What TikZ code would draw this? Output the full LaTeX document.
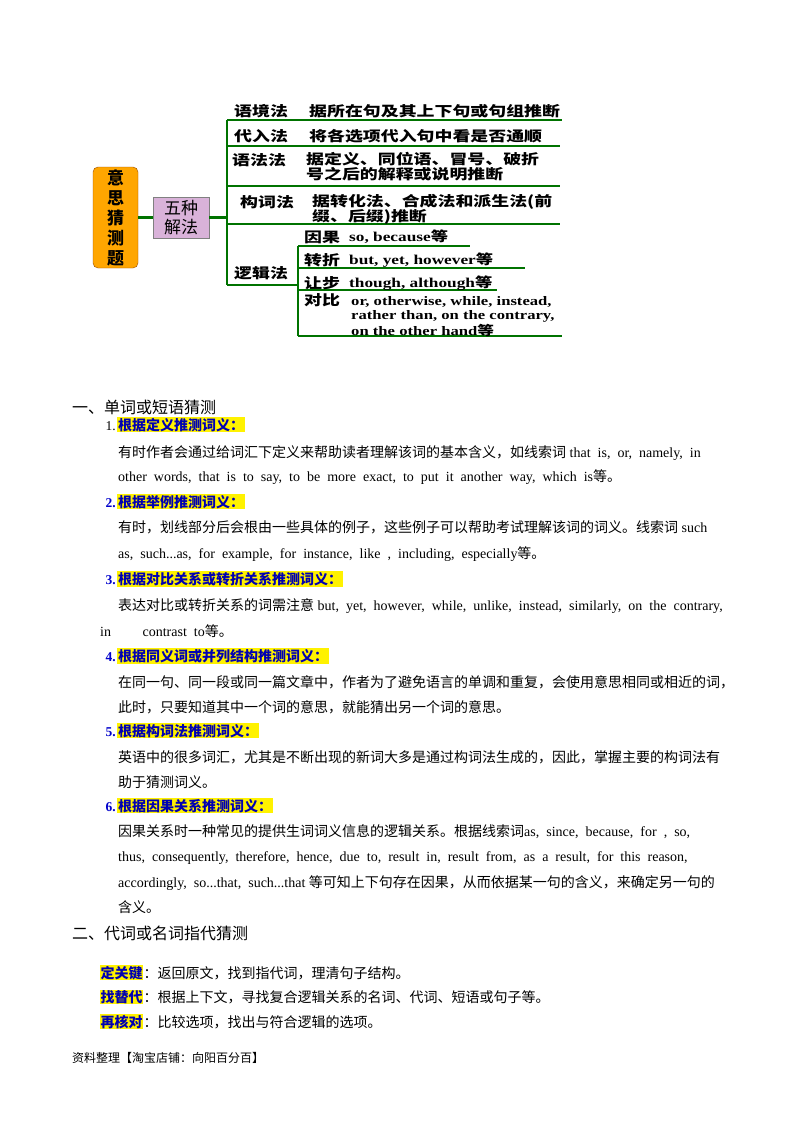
\documentclass[tikz,border=0pt]{standalone}
\usepackage{fontspec}
\setmainfont{Liberation Serif}
\newfontfamily\cj{Noto Sans CJK SC}
\newcommand\sxx[1]{\scalebox{1.28}[1]{#1}}
\newcommand\sxt[1]{\scalebox{1.28}[1]{\begin{tabular}{@{}l@{}}#1\end{tabular}}}
\begin{document}
\begin{tikzpicture}[x=1pt,y=-1pt,
  gl/.style={draw=green!45!black,line width=1.3pt},
  dg/.style={anchor=west,inner sep=0,font=\fontsize{14}{15}\selectfont\bfseries\cj},
  de/.style={anchor=west,inner sep=0,font=\fontsize{13.5}{14}\selectfont\bfseries,align=left},
  body/.style={anchor=base west,inner sep=0,font=\fontsize{14}{15}\selectfont},
  hd/.style={anchor=base west,inner sep=1pt,fill=yellow,text=blue!70!black,font=\fontsize{14}{15}\selectfont\bfseries\cj},
  num/.style={anchor=base east,inner sep=0,text=blue!80!black,font=\fontsize{13.5}{14}\selectfont\bfseries},
  sec/.style={anchor=base west,inner sep=0,font=\fontsize{16}{18}\selectfont\cj}]
\useasboundingbox[fill=white] (0,0) rectangle (800,1132);
% mind map
\node[draw=orange!60!black,fill=orange!70!yellow,rounded corners=5pt,minimum width=45pt,minimum height=101pt,align=center,inner sep=2pt,font=\fontsize{17}{20}\selectfont\bfseries\cj] (root) at (115.5,217.5) {意\\思\\猜\\测\\题};
\node[draw=gray,fill=violet!30,minimum width=56pt,minimum height=41pt,align=center,inner sep=1pt,font=\fontsize{17}{19}\selectfont\cj] (five) at (181,217.5) {五种\\解法};
\coordinate (t1) at (227,120); \coordinate (t2) at (227,285);
\coordinate (tm) at (227,217.5);
\draw[gl,line width=2.5pt] (root.east) -- (five.west);
\draw[gl,line width=2.5pt] (five.east) -- (tm);
\draw[gl] (t1) -- (t2);
\coordinate (e1) at (562,120); \coordinate (e2) at (560,146); \coordinate (e3) at (560,186); \coordinate (e4) at (560,224);
\coordinate (b1) at (227,146); \coordinate (b2) at (227,186); \coordinate (b3) at (227,224);
\draw[gl] (t1) -- (e1); \draw[gl] (b1) -- (e2); \draw[gl] (b2) -- (e3); \draw[gl] (b3) -- (e4);
\coordinate (s0) at (298,285); \draw[gl] (t2) -- (s0);
\coordinate (u1) at (298,246); \coordinate (u2) at (298,268); \coordinate (u3) at (298,290); \coordinate (u4) at (298,336);
\coordinate (v1) at (470,246); \coordinate (v2) at (525,268); \coordinate (v3) at (497,290); \coordinate (v4) at (562,336);
\draw[gl] (u1) -- (u4);
\draw[gl] (u1) -- (v1); \draw[gl] (u2) -- (v2); \draw[gl] (u3) -- (v3); \draw[gl] (u4) -- (v4);
\node[dg] (m1) at (234,111) {\sxx{语境法}};
\node[dg] (d1) at (309,111) {\sxx{据所在句及其上下句或句组推断}};
\node[dg] (m2) at (234,136) {\sxx{代入法}};
\node[dg] (d2) at (309,136) {\sxx{将各选项代入句中看是否通顺}};
\node[dg] (m3) at (232,160) {\sxx{语法法}};
\node[dg] (d3) at (306,168) {\sxt{据定义、同位语、冒号、破折\\[-2pt]号之后的解释或说明推断}};
\node[dg] (m4) at (240,202) {\sxx{构词法}};
\node[dg] (d4) at (312,210) {\sxt{据转化法、合成法和派生法(前\\[-2pt]缀、后缀)推断}};
\node[dg] (m5) at (234,273) {\sxx{逻辑法}};
\node[dg] (l1) at (304,237) {\sxx{因果}};
\node[de] (k1) at (349,237) {\sxx{so, because{\cj 等}}};
\node[dg] (l2) at (304,260) {\sxx{转折}};
\node[de] (k2) at (349,260) {\sxx{but, yet, however{\cj 等}}};
\node[dg] (l3) at (304,283) {\sxx{让步}};
\node[de] (k3) at (349,283) {\sxx{though, although{\cj 等}}};
\node[dg] (l4) at (304,300) {\sxx{对比}};
\node[de,anchor=north west,font=\fontsize{13}{14}\selectfont\bfseries] (k4) at (351,295) {\sxt{or, otherwise, while, instead,\\[0.5pt]rather than, on the contrary,\\[0.5pt]on the other hand{\cj 等}}};
% text
\node[sec] (s1) at (72,413) {一、单词或短语猜测};
\node[anchor=base east,inner sep=0,font=\fontsize{13.5}{14}\selectfont] (n1) at (116,430) {1.};
\node[hd] (h1) at (117,430) {根据定义推测词义：};
\node[body] (p11) at (118,457) {{\cj 有时作者会通过给词汇下定义来帮助读者理解该词的基本含义，如线索词} that \ is, \ or, \ namely, \ in};
\node[body] (p12) at (118,481) {other \ words, \ that \ is \ to \ say, \ to \ be \ more \ exact, \ to \ put \ it \ another \ way, \ which \ is{\cj 等。}};
\node[num] (n2) at (116,507) {2.};
\node[hd] (h2) at (117,507) {根据举例推测词义：};
\node[body] (p21) at (118,532) {{\cj 有时，划线部分后会根由一些具体的例子，这些例子可以帮助考试理解该词的词义。线索词} such};
\node[body] (p22) at (118,558) {as, \ such...as, \ for \ example, \ for \ instance, \ like \ , \ including, \ especially{\cj 等。}};
\node[num] (n3) at (116,584) {3.};
\node[hd] (h3) at (117,584) {根据对比关系或转折关系推测词义：};
\node[body] (p31) at (118,610) {{\cj 表达对比或转折关系的词需注意} but, \ yet, \ however, \ while, \ unlike, \ instead, \ similarly, \ on \ the \ contrary,};
\node[body] (p32) at (100,636) {in \qquad contrast \ to{\cj 等。}};
\node[num] (n4) at (116,661) {4.};
\node[hd] (h4) at (117,661) {根据同义词或并列结构推测词义：};
\node[body] (p41) at (118,687) {\cj 在同一句、同一段或同一篇文章中，作者为了避免语言的单调和重复，会使用意思相同或相近的词，};
\node[body] (p42) at (118,712) {\cj 此时，只要知道其中一个词的意思，就能猜出另一个词的意思。};
\node[num] (n5) at (116,736) {5.};
\node[hd] (h5) at (117,736) {根据构词法推测词义：};
\node[body] (p51) at (118,762) {\cj 英语中的很多词汇，尤其是不断出现的新词大多是通过构词法生成的，因此，掌握主要的构词法有};
\node[body] (p52) at (118,787) {\cj 助于猜测词义。};
\node[num] (n6) at (116,811) {6.};
\node[hd] (h6) at (117,811) {根据因果关系推测词义：};
\node[body] (p61) at (118,836) {{\cj 因果关系时一种常见的提供生词词义信息的逻辑关系。根据线索词}as, \ since, \ because, \ for \ , \ so,};
\node[body] (p62) at (118,861) {thus, \ consequently, \ therefore, \ hence, \ due \ to, \ result \ in, \ result \ from, \ as \ a \ result, \ for \ this \ reason,};
\node[body] (p63) at (118,887) {accordingly, \ so...that, \ such...that {\cj 等可知上下句存在因果，从而依据某一句的含义，来确定另一句的}};
\node[body] (p64) at (118,912) {\cj 含义。};
\node[sec] (s2) at (72,939) {二、代词或名词指代猜测};
\node[hd,inner sep=0.5pt] (g1) at (100,978) {定关键};
\node[body] (q1) at (g1.base east) {\cj ：返回原文，找到指代词，理清句子结构。};
\node[hd,inner sep=0.5pt] (g2) at (100,1002) {找替代};
\node[body] (q2) at (g2.base east) {\cj ：根据上下文，寻找复合逻辑关系的名词、代词、短语或句子等。};
\node[hd,inner sep=0.5pt] (g3) at (100,1027) {再核对};
\node[body] (q3) at (g3.base east) {\cj ：比较选项，找出与符合逻辑的选项。};
\node[anchor=base west,inner sep=0,font=\fontsize{12}{13}\selectfont\cj] (ft) at (72,1062) {资料整理【淘宝店铺：向阳百分百】};
\end{tikzpicture}
\end{document}
